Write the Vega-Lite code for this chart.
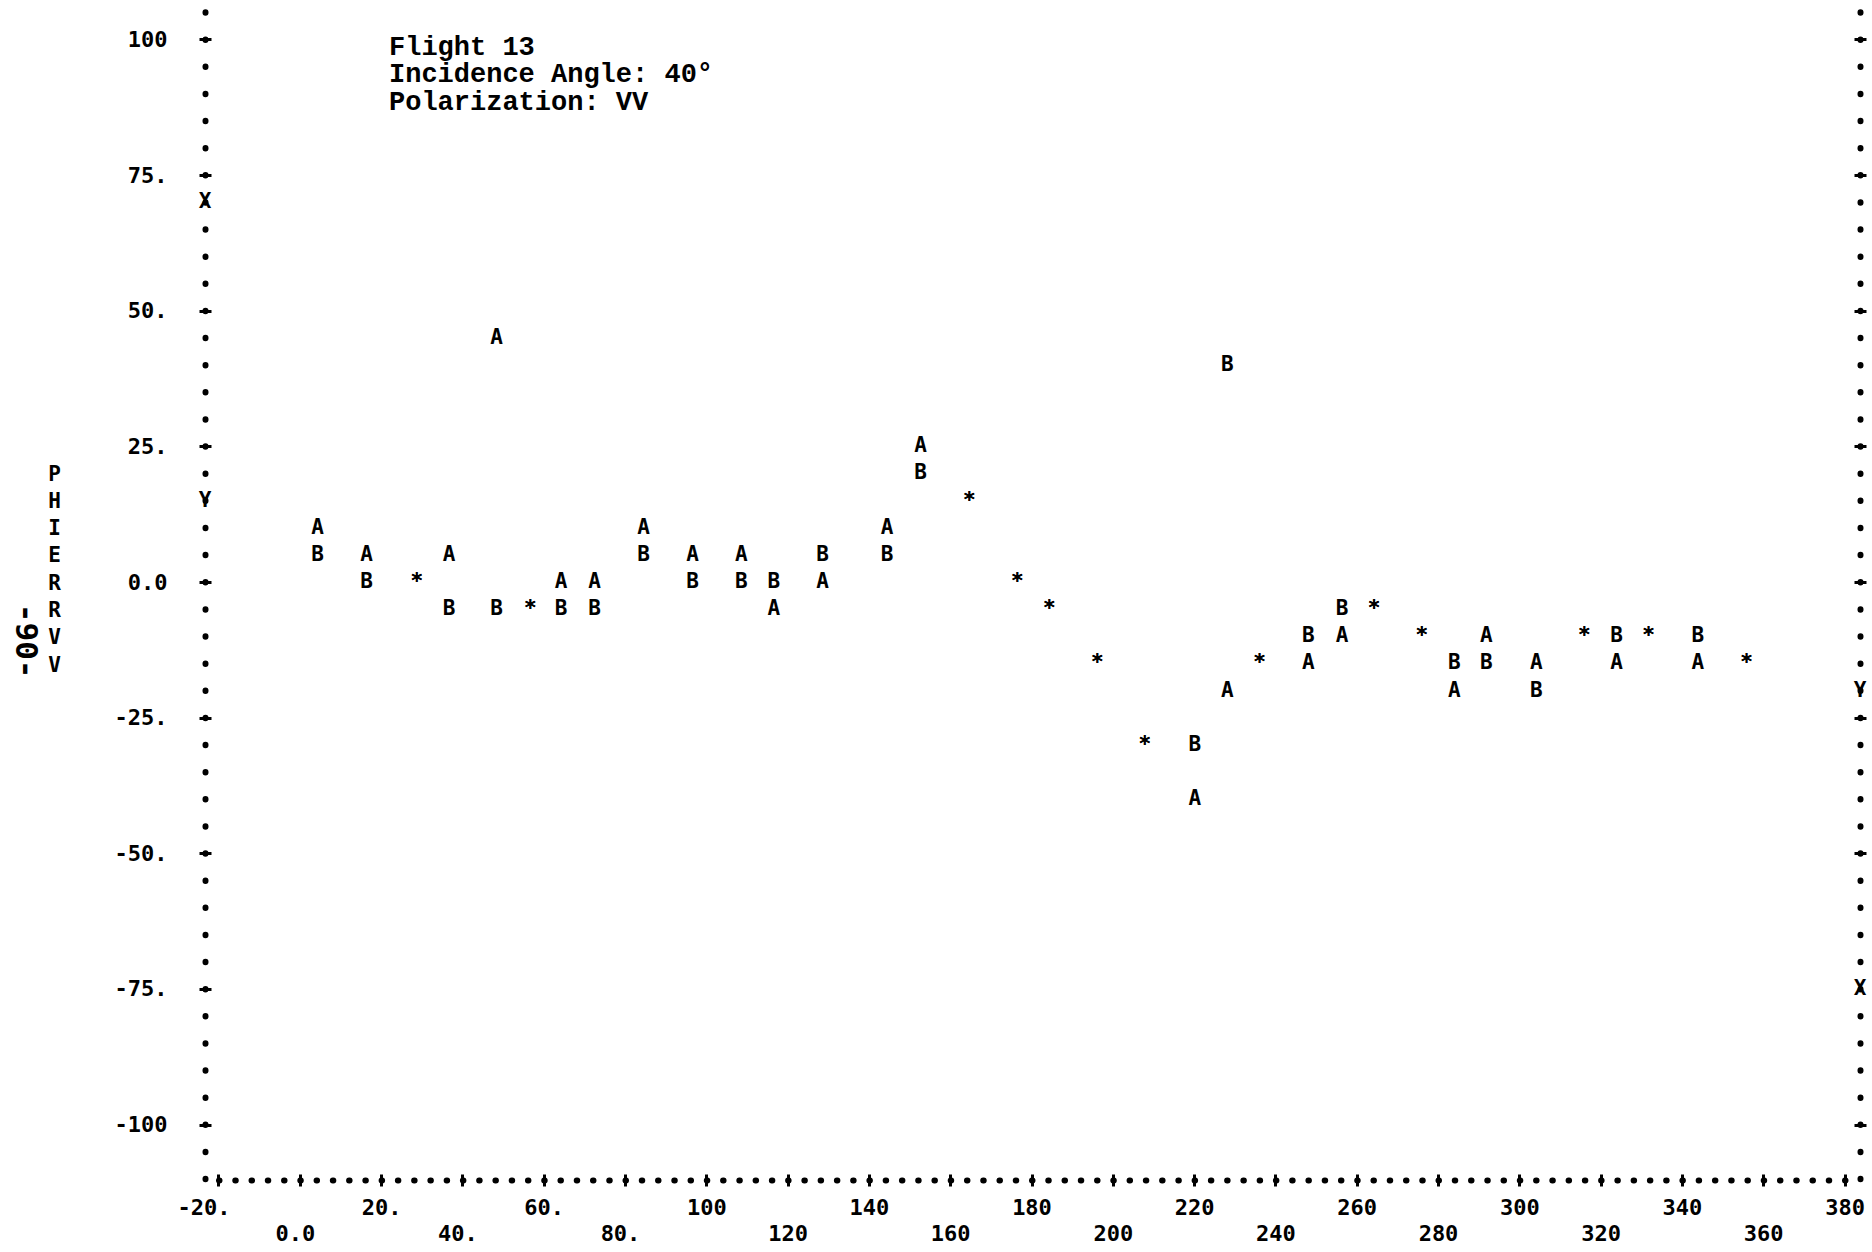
{
  "$schema": "https://vega.github.io/schema/vega-lite/v6.json",
  "width": 1655,
  "height": 1172,
  "autosize": {"type": "none"},
  "padding": {"left": 205, "top": 8, "right": 12, "bottom": 72},
  "background": "white",
  "config": {
    "view": {"stroke": null},
    "axis": {
      "grid": false,
      "domainColor": "black",
      "domainWidth": 6,
      "domainCap": "round",
      "tickColor": "black",
      "tickWidth": 3,
      "tickSize": 12,
      "labelFont": "DejaVu Sans Mono",
      "labelFontWeight": "bold",
      "labelFontSize": 22,
      "labelColor": "black",
      "labelOverlap": false,
      "labelFlush": false,
      "labelBound": false,
      "title": null
    }
  },
  "layer": [
    {
      "data": {
        "values": [
          {"az": 4.4, "phierr": 10, "curve": "A"}, {"az": 4.4, "phierr": 5, "curve": "B"},
          {"az": 16.4, "phierr": 5, "curve": "A"}, {"az": 16.4, "phierr": 0, "curve": "B"},
          {"az": 28.8, "phierr": 0, "curve": "A"}, {"az": 28.8, "phierr": 0, "curve": "B"},
          {"az": 36.7, "phierr": 5, "curve": "A"}, {"az": 36.7, "phierr": -5, "curve": "B"},
          {"az": 48.4, "phierr": 45, "curve": "A"}, {"az": 48.4, "phierr": -5, "curve": "B"},
          {"az": 56.7, "phierr": -5, "curve": "A"}, {"az": 56.7, "phierr": -5, "curve": "B"},
          {"az": 64.3, "phierr": 0, "curve": "A"}, {"az": 64.3, "phierr": -5, "curve": "B"},
          {"az": 72.5, "phierr": 0, "curve": "A"}, {"az": 72.5, "phierr": -5, "curve": "B"},
          {"az": 84.6, "phierr": 10, "curve": "A"}, {"az": 84.6, "phierr": 5, "curve": "B"},
          {"az": 96.6, "phierr": 5, "curve": "A"}, {"az": 96.6, "phierr": 0, "curve": "B"},
          {"az": 108.6, "phierr": 5, "curve": "A"}, {"az": 108.6, "phierr": 0, "curve": "B"},
          {"az": 116.6, "phierr": -5, "curve": "A"}, {"az": 116.6, "phierr": 0, "curve": "B"},
          {"az": 128.6, "phierr": 0, "curve": "A"}, {"az": 128.6, "phierr": 5, "curve": "B"},
          {"az": 144.5, "phierr": 10, "curve": "A"}, {"az": 144.5, "phierr": 5, "curve": "B"},
          {"az": 152.7, "phierr": 25, "curve": "A"}, {"az": 152.7, "phierr": 20, "curve": "B"},
          {"az": 164.7, "phierr": 15, "curve": "A"}, {"az": 164.7, "phierr": 15, "curve": "B"},
          {"az": 176.5, "phierr": 0, "curve": "A"}, {"az": 176.5, "phierr": 0, "curve": "B"},
          {"az": 184.4, "phierr": -5, "curve": "A"}, {"az": 184.4, "phierr": -5, "curve": "B"},
          {"az": 196.2, "phierr": -15, "curve": "A"}, {"az": 196.2, "phierr": -15, "curve": "B"},
          {"az": 207.9, "phierr": -30, "curve": "A"}, {"az": 207.9, "phierr": -30, "curve": "B"},
          {"az": 220.2, "phierr": -40, "curve": "A"}, {"az": 220.2, "phierr": -30, "curve": "B"},
          {"az": 228.2, "phierr": -20, "curve": "A"}, {"az": 228.2, "phierr": 40, "curve": "B"},
          {"az": 236.1, "phierr": -15, "curve": "A"}, {"az": 236.1, "phierr": -15, "curve": "B"},
          {"az": 248.1, "phierr": -15, "curve": "A"}, {"az": 248.1, "phierr": -10, "curve": "B"},
          {"az": 256.4, "phierr": -10, "curve": "A"}, {"az": 256.4, "phierr": -5, "curve": "B"},
          {"az": 264.3, "phierr": -5, "curve": "A"}, {"az": 264.3, "phierr": -5, "curve": "B"},
          {"az": 276.0, "phierr": -10, "curve": "A"}, {"az": 276.0, "phierr": -10, "curve": "B"},
          {"az": 284.0, "phierr": -20, "curve": "A"}, {"az": 284.0, "phierr": -15, "curve": "B"},
          {"az": 291.9, "phierr": -10, "curve": "A"}, {"az": 291.9, "phierr": -15, "curve": "B"},
          {"az": 304.2, "phierr": -15, "curve": "A"}, {"az": 304.2, "phierr": -20, "curve": "B"},
          {"az": 316.0, "phierr": -10, "curve": "A"}, {"az": 316.0, "phierr": -10, "curve": "B"},
          {"az": 323.9, "phierr": -15, "curve": "A"}, {"az": 323.9, "phierr": -10, "curve": "B"},
          {"az": 331.8, "phierr": -10, "curve": "A"}, {"az": 331.8, "phierr": -10, "curve": "B"},
          {"az": 343.9, "phierr": -15, "curve": "A"}, {"az": 343.9, "phierr": -10, "curve": "B"},
          {"az": 355.9, "phierr": -15, "curve": "A"}, {"az": 355.9, "phierr": -15, "curve": "B"}
        ]
      },
      "transform": [
        {"joinaggregate": [{"op": "count", "as": "n"}], "groupby": ["az", "phierr"]}
      ],
      "mark": {"type": "text", "font": "DejaVu Sans Mono", "fontWeight": "bold", "fontSize": 21, "color": "black", "align": "center", "baseline": "middle"},
      "encoding": {
        "x": {
          "field": "az", "type": "quantitative",
          "scale": {"domain": [-23.32, 383.81], "nice": false, "zero": false},
          "axis": {
            "orient": "bottom",
            "values": [-20, 20, 60, 100, 140, 180, 220, 260, 300, 340, 380],
            "ticks": false,
            "tickSize": 0,
            "domainDash": [0.5, 15.76],
            "domainDashOffset": 2.76,
            "labelExpr": "abs(datum.value) < 100 ? datum.value + '.' : '' + datum.value",
            "labelBaseline": "middle",
            "labelAlign": "center",
            "labelPadding": 27,
            "labelOffset": {"condition": {"test": "datum.value < 0", "value": -15}, "value": 0}
          }
        },
        "y": {
          "field": "phierr", "type": "quantitative",
          "scale": {"domain": [-110.21, 105.79], "nice": false, "zero": false},
          "axis": {
            "orient": "left",
            "values": [-100, -75, -50, -25, 0, 25, 50, 75, 100],
            "ticks": false,
            "tickSize": 0,
            "domainDash": [0.5, 26.63],
            "domainDashOffset": 25.99,
            "labelExpr": "datum.value == 0 ? '0.0' : (abs(datum.value) < 100 ? datum.value + '.' : '' + datum.value)",
            "labelAlign": "right",
            "labelBaseline": "middle",
            "labelPadding": 38,
            "title": ["P", "H", "I", "E", "R", "R", "V", "V"],
            "titleAngle": 0,
            "titleX": -151,
            "titleY": 466,
            "titleAlign": "center",
            "titleBaseline": "middle",
            "titleLineHeight": 27.3,
            "titleFont": "DejaVu Sans Mono",
            "titleFontWeight": "bold",
            "titleFontSize": 21,
            "titleColor": "black"
          }
        },
        "text": {"field": "curve", "type": "nominal", "condition": {"test": "datum.n > 1", "value": "*"}}
      }
    },
    {
      "data": {"values": [{"phierr": 70, "marker": "X"}, {"phierr": 15, "marker": "Y"}]},
      "mark": {"type": "text", "font": "DejaVu Sans Mono", "fontWeight": "bold", "fontSize": 21, "color": "black", "align": "center", "baseline": "middle"},
      "encoding": {
        "x": {
          "datum": -23.32, "type": "quantitative",
          "scale": {"domain": [-23.32, 383.81], "nice": false, "zero": false},
          "axis": {
            "orient": "bottom",
            "offset": -6,
            "values": [-20, 0, 20, 40, 60, 80, 100, 120, 140, 160, 180, 200, 220, 240, 260, 280, 300, 320, 340, 360, 380],
            "domain": false,
            "labels": false
          }
        },
        "y": {
          "field": "phierr", "type": "quantitative",
          "scale": {"domain": [-110.21, 105.79], "nice": false, "zero": false},
          "axis": {
            "orient": "left",
            "offset": -6,
            "values": [-100, -75, -50, -25, 0, 25, 50, 75, 100],
            "domain": false,
            "labels": false
          }
        },
        "text": {"field": "marker", "type": "nominal"}
      }
    },
    {
      "data": {"values": [{"phierr": -20, "marker": "Y"}, {"phierr": -75, "marker": "X"}]},
      "mark": {"type": "text", "font": "DejaVu Sans Mono", "fontWeight": "bold", "fontSize": 21, "color": "black", "align": "center", "baseline": "middle"},
      "encoding": {
        "x": {"datum": 383.81, "type": "quantitative", "scale": {"domain": [-23.32, 383.81], "nice": false, "zero": false}, "axis": null},
        "y": {
          "field": "phierr", "type": "quantitative",
          "scale": {"domain": [-110.21, 105.79], "nice": false, "zero": false},
          "axis": {
            "orient": "right",
            "labels": false,
            "ticks": false,
            "tickSize": 0,
            "values": [-100, -75, -50, -25, 0, 25, 50, 75, 100],
            "domainDash": [0.5, 26.63],
            "domainDashOffset": 25.99
          }
        },
        "text": {"field": "marker", "type": "nominal"}
      }
    },
    {
      "data": {"values": [{"note": ["Flight 13", "Incidence Angle: 40°", "Polarization: VV"]}]},
      "mark": {"type": "text", "font": "Liberation Mono", "fontWeight": "bold", "fontSize": 27, "lineHeight": 27.5, "color": "black", "align": "left", "baseline": "top"},
      "encoding": {
        "x": {
          "datum": 21.94, "type": "quantitative",
          "scale": {"domain": [-23.32, 383.81], "nice": false, "zero": false},
          "axis": {
            "orient": "bottom",
            "values": [0, 40, 80, 120, 160, 200, 240, 280, 320, 360],
            "domain": false,
            "ticks": false,
            "tickSize": 0,
            "labelExpr": "datum.value == 0 ? '0.0' : (abs(datum.value) < 100 ? datum.value + '.' : '' + datum.value)",
            "labelBaseline": "middle",
            "labelAlign": "center",
            "labelPadding": 53,
            "labelOffset": {"condition": {"test": "datum.value < 100", "value": -5}, "value": 0}
          }
        },
        "y": {"datum": 101.0, "type": "quantitative", "scale": {"domain": [-110.21, 105.79], "nice": false, "zero": false}, "axis": null},
        "text": {"field": "note"}
      }
    },
    {
      "data": {"values": [{"page": "-90-"}]},
      "mark": {"type": "text", "font": "DejaVu Sans Mono", "fontWeight": "bold", "fontSize": 31, "angle": 90, "color": "black", "align": "center", "baseline": "middle"},
      "encoding": {
        "x": {"datum": -67.5, "type": "quantitative", "scale": {"domain": [-23.32, 383.81], "nice": false, "zero": false}, "axis": null},
        "y": {
          "datum": -10.9, "type": "quantitative",
          "scale": {"domain": [-110.21, 105.79], "nice": false, "zero": false},
          "axis": {
            "orient": "right",
            "offset": -6,
            "values": [-100, -50, -25, 0, 25, 50, 75, 100],
            "domain": false,
            "labels": false
          }
        },
        "text": {"field": "page"}
      }
    }
  ],
  "resolve": {"axis": {"x": "independent", "y": "independent"}}
}
